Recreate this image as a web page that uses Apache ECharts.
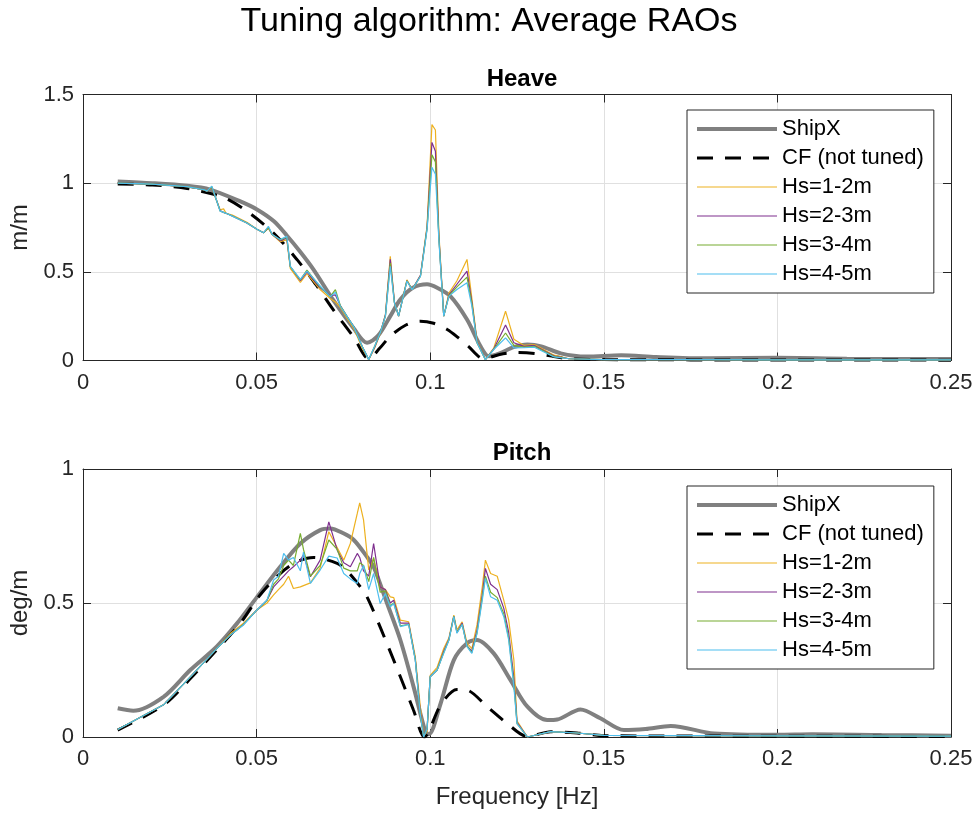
<!DOCTYPE html>
<html>
<head>
<meta charset="utf-8">
<script src="https://cdn.jsdelivr.net/npm/echarts@6/dist/echarts.min.js"></script>
<style>html,body{margin:0;padding:0;background:#fff;}#chart{width:978px;height:813px;}</style>
</head>
<body>
<div id="chart"></div>
<script>
// ---------- DATA ----------
var seriesNames = ['ShipX', 'CF (not tuned)', 'Hs=1-2m', 'Hs=2-3m', 'Hs=3-4m', 'Hs=4-5m'];
var xTicks = [0, 0.05, 0.1, 0.15, 0.2, 0.25];

// Heave: ShipX
var heaveShipXFreq = [0.01,0.02,0.03,0.0366,0.045,0.0501,0.055,0.0587,0.0625,0.0664,0.0721,0.078,0.0818,0.085,0.0885,0.0914,0.095,0.0991,0.102,0.1058,0.1106,0.1145,0.1169,0.12,0.124,0.128,0.132,0.1376,0.145,0.155,0.165,0.18,0.2,0.22,0.25];
var heaveShipX = [1.01,1.0,0.985,0.964,0.90,0.852,0.785,0.705,0.615,0.513,0.34,0.18,0.10,0.14,0.25,0.344,0.41,0.43,0.41,0.363,0.231,0.08,0.024,0.04,0.075,0.09,0.08,0.04,0.022,0.03,0.02,0.012,0.015,0.01,0.008];
// Heave: CF
var heaveCFFreq = [0.01,0.02,0.03,0.0404,0.0472,0.0548,0.0616,0.067,0.072,0.078,0.0823,0.0855,0.0885,0.093,0.0971,0.101,0.1049,0.108,0.111,0.1154,0.12,0.125,0.13,0.135,0.1395,0.15,0.2,0.25];
var heaveCF = [0.995,0.99,0.97,0.92,0.842,0.72,0.57,0.43,0.288,0.13,0.01,0.07,0.137,0.20,0.222,0.21,0.175,0.13,0.08,0.01,0.034,0.045,0.04,0.025,0.01,0.005,0.003,0.002];
// Heave: tuned, Hs bins
var heaveHsFreq = [0.010,0.020,0.030,0.035,0.0357,0.0371,0.0395,0.0405,0.0412,0.043,0.0472,0.0501,0.052,0.0534,0.0545,0.0568,0.0587,0.0597,0.0626,0.0645,0.0683,0.0712,0.0727,0.0741,0.0760,0.078,0.0804,0.0823,0.0840,0.0856,0.0871,0.0885,0.0897,0.0909,0.0933,0.0948,0.0972,0.0991,0.1005,0.1015,0.1025,0.1039,0.1054,0.1077,0.1106,0.112,0.1135,0.1159,0.1183,0.1217,0.1241,0.127,0.130,0.1357,0.14,0.15,0.17,0.2,0.25];
var heaveHs12 = [1.00,0.995,0.98,0.962,0.955,0.975,0.85,0.855,0.83,0.82,0.78,0.74,0.72,0.745,0.71,0.67,0.68,0.52,0.44,0.49,0.40,0.35,0.33,0.30,0.24,0.18,0.07,0.005,0.07,0.15,0.26,0.588,0.33,0.25,0.455,0.40,0.48,0.76,1.33,1.30,0.72,0.25,0.38,0.45,0.57,0.35,0.11,0.005,0.07,0.278,0.12,0.085,0.09,0.03,0.01,0.005,0.005,0.004,0.003];
var heaveHs23 = [1.00,0.995,0.98,0.962,0.955,0.978,0.845,0.835,0.83,0.815,0.775,0.74,0.72,0.75,0.71,0.675,0.69,0.53,0.45,0.50,0.41,0.365,0.37,0.31,0.25,0.19,0.08,0.005,0.075,0.155,0.255,0.57,0.33,0.25,0.45,0.40,0.48,0.75,1.23,1.18,0.70,0.25,0.37,0.43,0.504,0.33,0.105,0.005,0.065,0.20,0.10,0.08,0.085,0.025,0.01,0.005,0.005,0.004,0.003];
var heaveHs34 = [1.00,0.995,0.98,0.962,0.955,0.98,0.843,0.835,0.83,0.815,0.775,0.74,0.72,0.75,0.71,0.68,0.695,0.53,0.455,0.51,0.415,0.36,0.40,0.31,0.25,0.19,0.08,0.005,0.08,0.156,0.25,0.55,0.325,0.25,0.45,0.40,0.475,0.745,1.16,1.12,0.69,0.25,0.365,0.415,0.47,0.32,0.10,0.005,0.063,0.155,0.085,0.075,0.08,0.022,0.01,0.005,0.005,0.004,0.003];
var heaveHs45 = [1.00,0.995,0.98,0.962,0.955,0.983,0.842,0.835,0.83,0.814,0.775,0.74,0.72,0.757,0.71,0.682,0.70,0.531,0.457,0.504,0.42,0.36,0.385,0.306,0.25,0.19,0.08,0.005,0.08,0.156,0.25,0.531,0.325,0.25,0.447,0.40,0.475,0.739,1.09,1.05,0.68,0.25,0.363,0.40,0.438,0.306,0.10,0.005,0.062,0.128,0.071,0.072,0.075,0.02,0.01,0.005,0.005,0.004,0.003];

// Pitch: ShipX
var pitchShipXFreq = [0.01,0.0145,0.0232,0.0309,0.0385,0.0443,0.0501,0.0568,0.0626,0.0683,0.0712,0.075,0.078,0.0818,0.0837,0.0876,0.0914,0.0952,0.0986,0.0996,0.103,0.1068,0.1106,0.1135,0.1183,0.1231,0.128,0.1337,0.1366,0.1433,0.149,0.1558,0.162,0.1693,0.1818,0.2,0.21,0.23,0.25];
var pitchShipX = [0.107,0.098,0.15,0.25,0.337,0.423,0.522,0.635,0.722,0.772,0.778,0.76,0.735,0.672,0.635,0.498,0.362,0.188,0.02,0.01,0.125,0.287,0.35,0.362,0.312,0.213,0.113,0.063,0.065,0.103,0.07,0.026,0.03,0.041,0.013,0.008,0.01,0.007,0.005];
// Pitch: CF
var pitchCFFreq = [0.01,0.0232,0.031,0.0385,0.0453,0.051,0.0568,0.0616,0.0664,0.0732,0.076,0.0799,0.0818,0.0856,0.0914,0.0952,0.0983,0.103,0.1077,0.1106,0.1164,0.1222,0.128,0.1347,0.1423,0.15,0.2,0.25];
var pitchCF = [0.026,0.119,0.219,0.325,0.424,0.53,0.61,0.654,0.67,0.648,0.62,0.56,0.523,0.41,0.225,0.10,0.0,0.119,0.177,0.175,0.113,0.05,0.002,0.02,0.015,0.005,0.003,0.002];
// Pitch: tuned, Hs bins
var pitchHsFreq = [0.010,0.0232,0.031,0.0385,0.0424,0.0462,0.0501,0.053,0.0549,0.0563,0.0578,0.0592,0.0606,0.0626,0.0635,0.0655,0.0683,0.0708,0.0732,0.0751,0.077,0.079,0.0797,0.0808,0.0823,0.0837,0.0856,0.0871,0.0885,0.0895,0.0914,0.0938,0.0957,0.0971,0.0981,0.0991,0.1,0.102,0.1039,0.1054,0.1068,0.1077,0.1092,0.1106,0.112,0.1135,0.115,0.1159,0.1174,0.1193,0.1212,0.1226,0.1241,0.125,0.128,0.1347,0.1423,0.15,0.2,0.25];
var pitchHs12 = [0.028,0.12,0.225,0.33,0.385,0.425,0.474,0.50,0.53,0.55,0.57,0.60,0.554,0.56,0.565,0.575,0.63,0.766,0.707,0.66,0.722,0.834,0.874,0.81,0.623,0.666,0.56,0.55,0.523,0.52,0.436,0.43,0.30,0.12,0.005,0.02,0.23,0.26,0.33,0.37,0.455,0.40,0.43,0.35,0.33,0.42,0.56,0.66,0.61,0.60,0.51,0.437,0.287,0.06,0.0,0.02,0.015,0.006,0.004,0.003];
var pitchHs23 = [0.028,0.12,0.225,0.33,0.38,0.42,0.474,0.51,0.56,0.58,0.60,0.62,0.635,0.66,0.68,0.598,0.66,0.803,0.698,0.65,0.635,0.685,0.67,0.62,0.60,0.722,0.56,0.55,0.50,0.51,0.425,0.425,0.29,0.10,0.0,0.03,0.225,0.25,0.32,0.365,0.45,0.39,0.425,0.34,0.32,0.40,0.53,0.629,0.57,0.55,0.48,0.39,0.22,0.055,0.0,0.02,0.015,0.006,0.004,0.003];
var pitchHs34 = [0.028,0.12,0.225,0.33,0.38,0.42,0.474,0.51,0.57,0.59,0.64,0.66,0.64,0.76,0.70,0.60,0.64,0.735,0.70,0.63,0.62,0.62,0.65,0.64,0.58,0.67,0.54,0.545,0.49,0.50,0.415,0.42,0.29,0.09,0.0,0.03,0.225,0.25,0.315,0.362,0.45,0.39,0.42,0.34,0.315,0.39,0.52,0.60,0.54,0.52,0.46,0.37,0.20,0.05,0.0,0.02,0.015,0.006,0.004,0.003];
var pitchHs45 = [0.028,0.12,0.225,0.33,0.38,0.418,0.474,0.511,0.586,0.60,0.685,0.66,0.67,0.62,0.69,0.573,0.623,0.675,0.668,0.61,0.59,0.573,0.61,0.64,0.55,0.61,0.498,0.535,0.486,0.498,0.412,0.42,0.287,0.088,0.0,0.03,0.225,0.25,0.312,0.362,0.449,0.387,0.42,0.337,0.312,0.387,0.511,0.592,0.523,0.51,0.449,0.362,0.188,0.05,0.0,0.02,0.015,0.006,0.004,0.003];

// ---------- STYLE / BUILD ----------
var FONT = '"Liberation Sans", Arial, Helvetica, sans-serif';
var AX = '#262626';
var colors = ['#808080', '#000000', '#EDB120', '#7E2F8E', '#77AC30', '#4DBEEE'];
var widths = [4, 3, 1.2, 1.2, 1.2, 1.2];
var dash = [16, 12];

function pairs(fs, vs) { return fs.map(function (f, i) { return [f, vs[i]]; }); }

var grids = [
  { left: 83, right: 27, top: 94.5, height: 266 },
  { left: 83, right: 27, top: 469, height: 268 }
];

function fmt(v) { return String(+v.toFixed(2)); }

function xAxes(gi, showName) {
  var common = { type: 'value', gridIndex: gi, min: 0, max: 0.25, interval: 0.05,
    axisLine: { show: true, onZero: false, lineStyle: { color: AX, width: 1 } },
    axisTick: { show: true, inside: true, length: 8, lineStyle: { color: AX } } };
  var bottom = Object.assign({}, common, {
    position: 'bottom',
    splitLine: { show: true, lineStyle: { color: '#e0e0e0', width: 1 } },
    axisLabel: { color: AX, fontSize: 22, fontFamily: FONT, margin: 11, formatter: fmt }
  });
  if (showName) {
    bottom.name = 'Frequency [Hz]';
    bottom.nameLocation = 'middle';
    bottom.nameGap = 48;
    bottom.nameTextStyle = { color: AX, fontSize: 24, fontFamily: FONT };
  }
  var top = Object.assign({}, common, { position: 'top', splitLine: { show: false }, axisLabel: { show: false } });
  return [bottom, top];
}
function yAxes(gi, max, name) {
  var common = { type: 'value', gridIndex: gi, min: 0, max: max, interval: 0.5,
    axisLine: { show: true, onZero: false, lineStyle: { color: AX, width: 1 } },
    axisTick: { show: true, inside: true, length: 8, lineStyle: { color: AX } } };
  var left = Object.assign({}, common, {
    position: 'left',
    splitLine: { show: true, lineStyle: { color: '#e0e0e0', width: 1 } },
    axisLabel: { color: AX, fontSize: 22, fontFamily: FONT, margin: 9, formatter: fmt },
    name: name, nameLocation: 'middle', nameGap: 48,
    nameTextStyle: { color: AX, fontSize: 24, fontFamily: FONT }
  });
  var right = Object.assign({}, common, { position: 'right', splitLine: { show: false }, axisLabel: { show: false } });
  return [left, right];
}

var xAxisList = xAxes(0, false).concat(xAxes(1, true));
var yAxisList = yAxes(0, 1.5, 'm/m').concat(yAxes(1, 1, 'deg/m'));

function lineSeries(name, idx, data, xi, yi) {
  var s = { name: name, type: 'line', xAxisIndex: xi, yAxisIndex: yi, data: data,
    symbol: 'none', showSymbol: false, animation: false, silent: true,
    color: colors[idx], z: 2 + idx,
    lineStyle: { color: colors[idx], width: widths[idx] } };
  if (idx === 0) { s.smooth = 0.3; }
  else if (idx === 1) { s.lineStyle.type = dash; s.smooth = 0.3; }
  return s;
}

var heaveData = [pairs(heaveShipXFreq, heaveShipX), pairs(heaveCFFreq, heaveCF),
  pairs(heaveHsFreq, heaveHs12), pairs(heaveHsFreq, heaveHs23), pairs(heaveHsFreq, heaveHs34), pairs(heaveHsFreq, heaveHs45)];
var pitchData = [pairs(pitchShipXFreq, pitchShipX), pairs(pitchCFFreq, pitchCF),
  pairs(pitchHsFreq, pitchHs12), pairs(pitchHsFreq, pitchHs23), pairs(pitchHsFreq, pitchHs34), pairs(pitchHsFreq, pitchHs45)];

var series = [];
seriesNames.forEach(function (n, i) { series.push(lineSeries(n, i, heaveData[i], 0, 0)); });
seriesNames.forEach(function (n, i) { series.push(lineSeries(n, i, pitchData[i], 2, 2)); });

function legendAt(top) {
  return { show: true, orient: 'vertical', left: 687, top: top,
    data: seriesNames.map(function (n, i) {
      return { name: n, itemStyle: { opacity: 0 },
        lineStyle: { color: colors[i], width: widths[i], type: i === 1 ? dash : 'solid' } };
    }),
    itemWidth: 80, itemHeight: 14, itemGap: 7, padding: [8, 10, 8, 8],
    backgroundColor: '#ffffff', borderColor: '#262626', borderWidth: 1, borderRadius: 0,
    selectedMode: false,
    itemStyle: { opacity: 0 },
    textStyle: { color: '#000', fontSize: 22, fontFamily: FONT, lineHeight: 22 } };
}

var option = {
  backgroundColor: '#ffffff',
  animation: false,
  title: [
    { text: 'Tuning algorithm: Average RAOs', left: 'center', top: 0,
      textStyle: { fontSize: 34, fontWeight: 'normal', color: '#000', fontFamily: FONT } },
    { text: 'Heave', left: 517, textAlign: 'center', top: 62,
      textStyle: { fontSize: 24, fontWeight: 'bold', color: '#000', fontFamily: FONT } },
    { text: 'Pitch', left: 517, textAlign: 'center', top: 436,
      textStyle: { fontSize: 24, fontWeight: 'bold', color: '#000', fontFamily: FONT } }
  ],
  legend: [legendAt(110), legendAt(486)],
  grid: grids,
  xAxis: xAxisList,
  yAxis: yAxisList,
  series: series
};

var chart = echarts.init(document.getElementById('chart'), null, { renderer: 'canvas' });
chart.setOption(option);
</script>
</body>
</html>
